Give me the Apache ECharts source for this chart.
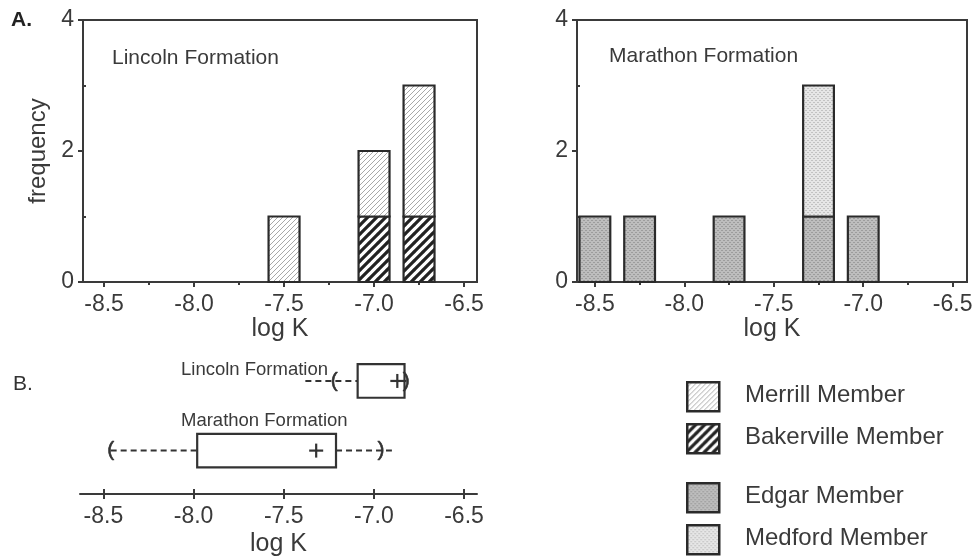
<!DOCTYPE html>
<html><head><meta charset="utf-8">
<script src="https://cdn.jsdelivr.net/npm/echarts@6/dist/echarts.min.js"></script>
<style>html,body{margin:0;padding:0;background:#fff}#c{width:976px;height:560px}</style>
</head><body><div id="c"></div>
<script>
// ---------- data ----------
const xTickValues = [-8.5, -8.0, -7.5, -7.0, -6.5];
const xMinorTickValues = [-8.25, -7.75, -7.25, -6.75];
const yTickValues = [0, 2, 4];
const yMinorTickValues = [1, 3];

const lincolnBins = [-7.5, -7.0, -6.75];
const bakervilleCounts = [0, 1, 1];
const merrillCounts = [1, 1, 2];

const marathonBins = [-8.5, -8.25, -7.75, -7.25, -7.0];
const edgarCounts = [1, 1, 1, 1, 1];
const medfordCounts = [0, 0, 0, 2, 0];

const boxNames = ['Lincoln Formation', 'Marathon Formation'];
const boxDashLow = [-7.38, -8.46];
const boxP10 = [-7.22, -8.46];
const boxQ1 = [-7.09, -7.98];
const boxMean = [-6.87, -7.32];
const boxQ3 = [-6.83, -7.21];
const boxP90 = [-6.82, -6.96];
const boxDashHigh = [-6.82, -6.90];

const legendNames = ['Merrill Member', 'Bakerville Member', 'Edgar Member', 'Medford Member'];

// ---------- styles / layout ----------
const FONT = '"Liberation Sans", Arial, Helvetica, sans-serif';
const TXT = '#3a3a3a';
const AX = '#3a3a3a';
const BAR_HALF = 0.086;
const BOX_ROWS = [3.23, 1.24];
const BOX_HALF = 0.48;

function makeHatch(size, lw, color, bg) {
  const c = document.createElement('canvas');
  c.width = c.height = size;
  const g = c.getContext('2d');
  g.fillStyle = bg; g.fillRect(0, 0, size, size);
  g.strokeStyle = color; g.lineWidth = lw; g.lineCap = 'square';
  g.beginPath();
  for (const o of [-size, 0, size]) { g.moveTo(o, size); g.lineTo(o + size, 0); }
  g.stroke();
  return c;
}
function makeStipple(base, dot) {
  const c = document.createElement('canvas');
  c.width = c.height = 4;
  const g = c.getContext('2d');
  g.fillStyle = base; g.fillRect(0, 0, 4, 4);
  g.fillStyle = dot;
  g.fillRect(0, 0, 1, 1); g.fillRect(2, 2, 1, 1); g.fillRect(3, 0, 1, 1); g.fillRect(1, 2, 1, 1);
  return c;
}
const fills = {
  merrill: { image: makeHatch(5, 1, '#a8a8a8', '#ffffff'), repeat: 'repeat' },
  bakerville: { image: makeHatch(9, 3.2, '#222222', '#ffffff'), repeat: 'repeat' },
  edgar: { image: makeStipple('#bdbdbd', '#9c9c9c'), repeat: 'repeat' },
  medford: { image: makeStipple('#e6e6e6', '#c2c2c2'), repeat: 'repeat' }
};

function stackPart(bins, lower, counts) {
  const out = [];
  bins.forEach((b, i) => {
    if (counts[i] > 0) out.push([b, lower[i], lower[i] + counts[i]]);
  });
  return out;
}
const zeros = n => new Array(n).fill(0);

function barSeries(name, xi, yi, data, fill) {
  return {
    type: 'custom', name, xAxisIndex: xi, yAxisIndex: yi, data,
    encode: { x: 0, y: [1, 2] },
    renderItem: function (params, api) {
      const x = api.value(0), y0 = api.value(1), y1 = api.value(2);
      const p0 = api.coord([x - BAR_HALF, y0]);
      const p1 = api.coord([x + BAR_HALF, y1]);
      return {
        type: 'rect',
        shape: { x: p0[0], y: p1[1], width: p1[0] - p0[0], height: p0[1] - p1[1] },
        style: { fill: fill, stroke: '#2a2a2a', lineWidth: 2.2 }
      };
    }
  };
}

function mainX(grid, min, max, withName) {
  return {
    type: 'value', gridIndex: grid, position: 'bottom', min, max,
    name: withName ? 'log K' : '', nameLocation: 'middle', nameGap: 34,
    nameTextStyle: { fontSize: 25, color: TXT, fontFamily: FONT },
    axisLine: { show: true, onZero: false, lineStyle: { color: AX, width: 2 } },
    axisTick: { show: true, customValues: xTickValues, length: 5, inside: false, lineStyle: { color: AX, width: 2 } },
    axisLabel: { customValues: xTickValues, formatter: v => Number(v).toFixed(1), margin: 11, fontSize: 23, color: TXT, fontFamily: FONT },
    splitLine: { show: false }
  };
}
function minorX(grid, min, max, len, inside) {
  return {
    type: 'value', gridIndex: grid, position: 'bottom', min, max,
    axisLine: { show: false, onZero: false },
    axisTick: { show: true, customValues: xMinorTickValues, length: len, inside: inside, lineStyle: { color: AX, width: 2 } },
    axisLabel: { show: false }, splitLine: { show: false }
  };
}
function mainY(grid, withName) {
  return {
    type: 'value', gridIndex: grid, position: 'left', min: 0, max: 4,
    name: withName ? 'frequency' : '', nameLocation: 'middle', nameGap: 33, nameRotate: 90,
    nameTextStyle: { fontSize: 24, color: TXT, fontFamily: FONT },
    axisLine: { show: true, onZero: false, lineStyle: { color: AX, width: 2 } },
    axisTick: { show: true, customValues: yTickValues, length: 5, lineStyle: { color: AX, width: 2 } },
    axisLabel: { customValues: yTickValues, margin: 9, fontSize: 23, color: TXT, fontFamily: FONT },
    splitLine: { show: false }
  };
}
function minorY(grid) {
  return {
    type: 'value', gridIndex: grid, position: 'left', min: 0, max: 4,
    axisLine: { show: false, onZero: false },
    axisTick: { show: true, customValues: yMinorTickValues, length: 3, inside: true, lineStyle: { color: AX, width: 2 } },
    axisLabel: { show: false }, splitLine: { show: false }
  };
}

const boxData = boxNames.map((n, i) => [boxQ1[i], BOX_ROWS[i], boxDashLow[i], boxP10[i], boxMean[i], boxQ3[i], boxP90[i], boxDashHigh[i]]);

const legendY = [381, 423, 482, 524];
const legendFills = [fills.merrill, fills.bakerville, fills.edgar, fills.medford];
const graphics = [];
legendNames.forEach((n, i) => {
  graphics.push({ type: 'rect', left: 686, top: legendY[i], shape: { width: 32, height: 29 },
    style: { fill: legendFills[i], stroke: '#2a2a2a', lineWidth: 2.5 } });
  graphics.push({ type: 'text', left: 745, top: legendY[i] + 2,
    style: { text: n, font: '24px ' + FONT, fill: TXT } });
});
graphics.push({ type: 'text', left: 11, top: 10, style: { text: 'A.', font: 'bold 21px ' + FONT, fill: '#222' } });
graphics.push({ type: 'text', left: 13, top: 374, style: { text: 'B.', font: '21px ' + FONT, fill: '#333' } });
graphics.push({ type: 'text', left: 112, top: 48, style: { text: 'Lincoln Formation', font: '21px ' + FONT, fill: TXT } });
graphics.push({ type: 'text', left: 609, top: 46, style: { text: 'Marathon Formation', font: '21px ' + FONT, fill: TXT } });
graphics.push({ type: 'text', left: 181, top: 360, style: { text: boxNames[0], font: '18.5px ' + FONT, fill: TXT } });
graphics.push({ type: 'text', left: 181, top: 411, style: { text: boxNames[1], font: '18.5px ' + FONT, fill: TXT } });

const option = {
  animation: false,
  backgroundColor: '#fff',
  textStyle: { fontFamily: FONT },
  grid: [
    { left: 83, top: 20, width: 394, height: 262, show: true, borderColor: AX, borderWidth: 2 },
    { left: 577, top: 20, width: 390, height: 262, show: true, borderColor: AX, borderWidth: 2 },
    { left: 80, top: 354, width: 397, height: 140, show: false }
  ],
  xAxis: [
    mainX(0, -8.617, -6.428, true),
    minorX(0, -8.617, -6.428, 3, false),
    mainX(1, -8.6, -6.42, true),
    minorX(1, -8.6, -6.42, 3, false),
    Object.assign(mainX(2, -8.63, -6.428, true), { nameGap: 38 }),
    Object.assign(mainX(2, -8.63, -6.428, false), { axisLine: { show: false, onZero: false }, axisLabel: { show: false },
      axisTick: { show: true, customValues: xTickValues, length: 5, inside: true, lineStyle: { color: AX, width: 2 } } })
  ],
  yAxis: [
    mainY(0, true), minorY(0), mainY(1, false), minorY(1),
    { type: 'value', gridIndex: 2, min: 0, max: 4, show: false }
  ],
  series: [
    barSeries('Bakerville Member', 0, 0, stackPart(lincolnBins, zeros(3), bakervilleCounts), fills.bakerville),
    barSeries('Merrill Member', 0, 0, stackPart(lincolnBins, bakervilleCounts, merrillCounts), fills.merrill),
    barSeries('Edgar Member', 2, 2, stackPart(marathonBins, zeros(5), edgarCounts), fills.edgar),
    barSeries('Medford Member', 2, 2, stackPart(marathonBins, edgarCounts, medfordCounts), fills.medford),
    {
      type: 'custom', name: 'box', xAxisIndex: 4, yAxisIndex: 4, data: boxData,
      encode: { x: 0, y: 1 },
      renderItem: function (params, api) {
        const row = api.value(1);
        const c = v => api.coord([v, row]);
        const half = api.size([0, BOX_HALF])[1];
        const q1 = api.value(0), dLo = api.value(2), p10 = api.value(3), mean = api.value(4),
              q3 = api.value(5), p90 = api.value(6), dHi = api.value(7);
        const y = c(q1)[1];
        const dash = { stroke: '#333', lineWidth: 2, lineDash: [6, 4] };
        const ch = [];
        if (dLo < q1) ch.push({ type: 'line', shape: { x1: c(dLo)[0], y1: y, x2: c(q1)[0], y2: y }, style: dash });
        if (dHi > q3) ch.push({ type: 'line', shape: { x1: c(q3)[0], y1: y, x2: c(dHi)[0], y2: y }, style: dash });
        ch.push({ type: 'rect', shape: { x: c(q1)[0], y: y - half, width: c(q3)[0] - c(q1)[0], height: 2 * half },
          style: { fill: '#fff', stroke: '#333', lineWidth: 2.2 } });
        ch.push({ type: 'text', x: c(p10)[0], y: y, style: { text: '(', font: '21px ' + FONT, fill: '#333', stroke: '#333', lineWidth: 0.6, align: 'center', verticalAlign: 'middle' } });
        ch.push({ type: 'text', x: c(p90)[0], y: y, style: { text: ')', font: '21px ' + FONT, fill: '#333', stroke: '#333', lineWidth: 0.6, align: 'center', verticalAlign: 'middle' } });
        const m = c(mean)[0];
        ch.push({ type: 'line', shape: { x1: m - 7, y1: y, x2: m + 7, y2: y }, style: { stroke: '#333', lineWidth: 2.2 } });
        ch.push({ type: 'line', shape: { x1: m, y1: y - 7, x2: m, y2: y + 7 }, style: { stroke: '#333', lineWidth: 2.2 } });
        return { type: 'group', children: ch };
      }
    }
  ],
  graphic: graphics
};
const chart = echarts.init(document.getElementById('c'), null, { renderer: 'canvas' });
chart.setOption(option);
</script>
</body></html>
